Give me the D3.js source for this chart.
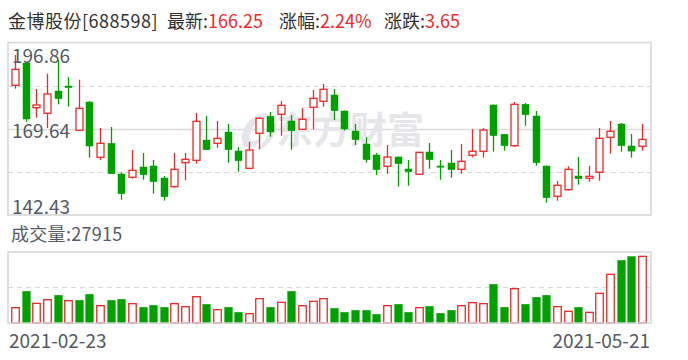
<!DOCTYPE html>
<html>
<head>
<meta charset="utf-8">
<script src="https://cdn.jsdelivr.net/npm/d3@7"></script>
<style>
  body { margin: 0; background: #fff; }
  svg text { font-family: "Microsoft YaHei", "Noto Sans CJK SC", sans-serif; }
</style>
</head>
<body>
<div id="chart"></div>
<script>
const opens = [183.35, 190.39, 176.29, 174.52, 181.56, 183.13, 169.16, 178.08, 160.64, 165.05,
    155.37, 154.33, 157.57, 157.89, 154.10, 151.36, 158.93, 159.69, 166.09, 165.05,
    168.62, 162.62, 157.16, 168.21, 173.57, 174.20, 172.09, 169.47, 176.41, 178.31,
    180.29, 175.25, 168.93, 164.83, 161.36, 157.80, 160.73, 156.94, 155.27, 162.31,
    157.89, 158.84, 156.85, 161.27, 162.53, 177.14, 167.89, 164.30, 177.36, 173.67,
    157.89, 148.33, 150.41, 154.73, 154.01, 155.90, 166.95, 171.14, 164.20, 164.11];
const highs = [192.92, 190.50, 182.19, 187.01, 191.34, 185.97, 185.12, 178.30, 169.88, 170.20,
    155.90, 162.94, 161.99, 159.78, 154.73, 161.99, 161.99, 174.61, 173.67, 172.09,
    171.14, 163.89, 165.46, 173.20, 174.93, 178.40, 173.98, 176.19, 181.87, 183.76,
    182.19, 175.40, 171.14, 167.04, 161.99, 164.52, 160.90, 159.78, 162.30, 165.15,
    159.78, 162.94, 164.83, 169.57, 169.88, 177.30, 168.00, 178.08, 177.77, 175.25,
    158.00, 153.16, 157.80, 160.73, 157.89, 169.88, 172.09, 171.46, 167.99, 171.14];
const lows = [182.28, 171.87, 173.13, 169.88, 177.36, 176.60, 169.10, 160.51, 159.78, 155.40,
    147.26, 153.88, 153.57, 149.15, 146.94, 151.04, 153.38, 158.62, 162.95, 163.66,
    158.93, 156.09, 157.10, 163.16, 167.14, 167.45, 163.03, 169.40, 169.47, 176.60,
    172.41, 169.03, 164.52, 158.93, 155.05, 155.46, 151.36, 151.67, 155.20, 157.04,
    153.57, 154.20, 155.46, 160.64, 160.51, 162.40, 162.72, 163.89, 170.61, 157.99,
    146.31, 146.94, 150.10, 151.99, 152.94, 153.25, 161.77, 162.40, 160.51, 162.72];
const closes = [188.40, 172.72, 177.14, 180.61, 179.13, 182.60, 176.10, 164.20, 165.05, 155.46,
    149.15, 156.53, 155.15, 152.94, 148.20, 156.85, 160.00, 171.99, 163.03, 166.63,
    163.03, 159.56, 162.94, 172.94, 168.62, 177.04, 169.03, 172.63, 179.25, 182.09,
    175.34, 169.57, 166.19, 159.88, 156.72, 160.73, 158.62, 156.09, 162.21, 159.88,
    157.67, 156.72, 159.37, 162.53, 169.25, 167.45, 164.30, 177.36, 174.08, 158.93,
    147.89, 151.80, 156.85, 153.88, 154.64, 166.63, 168.84, 164.30, 162.60, 166.25];
const volumes = [6420, 13260, 8235, 9770, 11585, 9350, 9490, 12000, 7260, 9490,
    9910, 8095, 6560, 7400, 6560, 8095, 6840, 11025, 7815, 5585,
    6560, 4465, 3910, 10190, 6560, 8655, 13260, 7260, 9070, 10190,
    6140, 4465, 5305, 5305, 3630, 7260, 7815, 4465, 6420, 6980,
    4050, 5305, 7260, 8515, 8095, 16190, 6560, 14375, 7815, 10750,
    11585, 6840, 4885, 6560, 4465, 12420, 20380, 26240, 27800, 27915];

const priceTicks = ['196.86', '169.64', '142.43'];
const dateLabels = ['2021-02-23', '2021-05-21'];
const stockName = '金博股份[688598]';
const priceMin = 142.43;
const priceMax = 196.86;

const W = 688, H = 360;
const RED = '#f02828', GREEN = '#00a000';
const BORDER = '#d4d4da', GRID = '#dcdcdc';
const LABEL = '#555a66';

const svg = d3.select('#chart').append('svg')
    .attr('width', W)
    .attr('height', H);

svg.append('rect').attr('width', W).attr('height', H).attr('fill', '#fff');

// header: label + value pairs
const last = closes.length - 1;
const chg = closes[last] - closes[last - 1];
const header = [
    { x: 8, label: stockName, value: '' },
    { x: 167, label: '最新:', value: closes[last].toFixed(2) },
    { x: 279, label: '涨幅:', value: (chg / closes[last - 1] * 100).toFixed(2) + '%' },
    { x: 384, label: '涨跌:', value: chg.toFixed(2) }
];
const head = svg.selectAll('text.head')
    .data(header)
    .enter()
    .append('text')
    .attr('class', 'head')
    .attr('x', (d) => d.x)
    .attr('y', 28)
    .attr('font-size', 18)
    .attr('letter-spacing', (d, i) => i === 0 ? 0.5 : 0);
head.append('tspan').attr('fill', '#333').text((d) => d.label);
head.append('tspan').attr('fill', RED).text((d) => d.value);

// panels
const left = 8, right = 651;
const pTop = 42.5, pBottom = 215;
const vTop = 252, vBottom = 323;

const x = d3.scaleBand()
    .domain(d3.range(closes.length))
    .range([9.7, 647.3]);
const y = d3.scaleLinear()
    .domain([priceMin, priceMax])
    .range([pBottom, pTop]);
const yv = d3.scaleLinear()
    .domain([0, d3.max(volumes) * 1.065])
    .range([vBottom, vTop]);
const cx = (i) => Math.round(x(i) + x.bandwidth() / 2) + 0.5;

// price grid
const pGrid = svg.append('g');
[0.25, 0.5, 0.75].forEach((f) => {
    const gy = Math.round(pTop + (pBottom - pTop) * f) + 0.5;
    pGrid.append('line')
        .attr('x1', left).attr('x2', right)
        .attr('y1', gy).attr('y2', gy)
        .attr('stroke', f === 0.5 ? GRID : '#d8d8d8')
        .attr('stroke-width', f === 0.5 ? 1.5 : 1)
        .attr('stroke-dasharray', f === 0.5 ? null : '5,4');
});

// watermark
const wm = svg.append('g').attr('fill', '#e6e6ea');
wm.append('path')
    .attr('d', 'M266,113 C254,114 243,124 242,136 C241,143 244,148 249,148 C256,148 262,138 266,128 L270,130 C266,139 262,146 256,149 L262,149 C270,144 276,134 277,124 L270,122 C268,128 262,140 253,141 C249,141 249,136 251,131 C254,123 262,117 271,116 Z');
wm.append('text')
    .attr('x', 276)
    .attr('y', 144)
    .attr('font-size', 37)
    .attr('font-weight', 'bold')
    .text('东方财富');

svg.append('rect')
    .attr('x', left).attr('y', pTop)
    .attr('width', right - left).attr('height', pBottom - pTop)
    .attr('fill', 'none')
    .attr('stroke', BORDER)
    .attr('stroke-width', 1.5);

// candles
const idx = d3.range(closes.length);
const bodyW = 7;
const isUp = (i) => closes[i] >= opens[i];
const candles = svg.append('g')
    .selectAll('g')
    .data(idx)
    .enter()
    .append('g');

candles.append('line')
    .attr('x1', cx)
    .attr('x2', cx)
    .attr('y1', (i) => y(highs[i]))
    .attr('y2', (i) => y(lows[i]))
    .attr('stroke', (i) => isUp(i) ? RED : GREEN)
    .attr('stroke-width', 1.3);

candles.append('rect')
    .attr('x', (i) => cx(i) - bodyW / 2)
    .attr('y', (i) => y(Math.max(opens[i], closes[i])))
    .attr('width', bodyW)
    .attr('height', (i) => Math.max(1.2, Math.abs(y(opens[i]) - y(closes[i]))))
    .attr('fill', (i) => isUp(i) ? '#fff' : GREEN)
    .attr('stroke', (i) => isUp(i) ? RED : GREEN)
    .attr('stroke-width', (i) => isUp(i) ? 1.3 : 0.5);

// price labels
const labelPos = [
    { y: pTop + 2.5, base: 'hanging' },
    { y: (pTop + pBottom) / 2 + 0.5, base: 'central' },
    { y: pBottom - 1.5, base: 'alphabetic' }
];
svg.selectAll('text.ptick')
    .data(priceTicks)
    .enter()
    .append('text')
    .attr('class', 'ptick')
    .attr('x', 12)
    .attr('y', (d, i) => labelPos[i].y)
    .attr('dominant-baseline', (d, i) => labelPos[i].base)
    .attr('font-size', 19)
    .attr('fill', LABEL)
    .text((d) => d);

// volume panel
svg.append('text')
    .attr('x', 11)
    .attr('y', 241)
    .attr('font-size', 18)
    .attr('letter-spacing', 0.3)
    .attr('fill', LABEL)
    .text('成交量:' + volumes[last]);

svg.append('line')
    .attr('x1', left).attr('x2', right)
    .attr('y1', 287.5).attr('y2', 287.5)
    .attr('stroke', '#d8d8d8')
    .attr('stroke-dasharray', '5,4');

const volUp = (i) => i === 0 ? isUp(i) : closes[i] >= closes[i - 1];
const volW = 7.5;
svg.append('g')
    .selectAll('rect')
    .data(idx)
    .enter()
    .append('rect')
    .attr('x', (i) => cx(i) - volW / 2)
    .attr('y', (i) => yv(volumes[i]))
    .attr('width', volW)
    .attr('height', (i) => vBottom - yv(volumes[i]))
    .attr('fill', (i) => volUp(i) ? '#fff' : GREEN)
    .attr('stroke', (i) => volUp(i) ? RED : GREEN)
    .attr('stroke-width', (i) => volUp(i) ? 1.3 : 0.5);

svg.append('rect')
    .attr('x', left).attr('y', vTop)
    .attr('width', right - left).attr('height', vBottom - vTop)
    .attr('fill', 'none')
    .attr('stroke', BORDER)
    .attr('stroke-width', 1.5);

// date labels
svg.selectAll('text.date')
    .data(dateLabels)
    .enter()
    .append('text')
    .attr('class', 'date')
    .attr('x', (d, i) => i === 0 ? 9 : 650)
    .attr('y', 348)
    .attr('text-anchor', (d, i) => i === 0 ? 'start' : 'end')
    .attr('font-size', 19)
    .attr('fill', LABEL)
    .text((d) => d);
</script>
</body>
</html>
